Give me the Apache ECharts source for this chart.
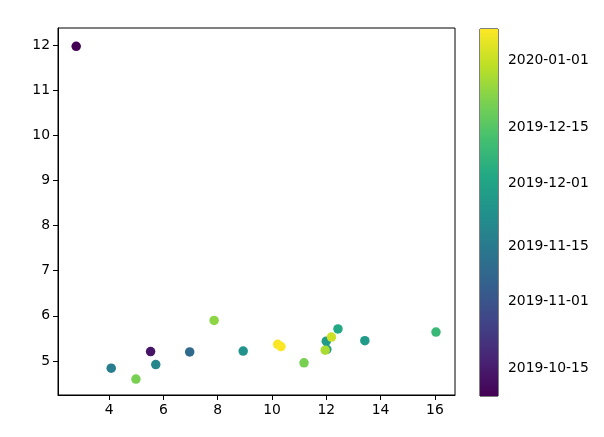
<!DOCTYPE html>
<html>
<head>
<meta charset="utf-8">
<script src="https://cdn.jsdelivr.net/npm/echarts@6/dist/echarts.min.js"></script>
<style>
  html, body { margin: 0; padding: 0; background: #fff; }
  #chart { width: 604px; height: 437px; }
</style>
</head>
<body>
<div id="chart"></div>
<script>
// scatter points: x, y and the date used for colour
const xValues = [2.79, 4.08, 4.99, 5.53, 5.72, 6.97, 7.87, 8.94, 10.21, 10.33, 11.18, 12.00, 12.02, 11.96, 12.19, 12.43, 13.42, 16.04];
const yValues = [11.97, 4.84, 4.60, 5.21, 4.92, 5.20, 5.90, 5.22, 5.37, 5.32, 4.96, 5.44, 5.26, 5.24, 5.53, 5.71, 5.45, 5.64];
const dates = ['2019-10-08', '2019-11-16', '2019-12-21', '2019-10-13', '2019-11-19', '2019-11-09', '2019-12-24', '2019-11-24',
  '2020-01-08', '2020-01-09', '2019-12-21', '2019-11-27', '2019-11-28', '2019-12-28', '2020-01-02', '2019-12-03',
  '2019-11-27', '2019-12-09'];

// tick labels
const xTicks = [4, 6, 8, 10, 12, 14, 16];
const yTicks = [5, 6, 7, 8, 9, 10, 11, 12];
const colorbarTicks = ['2019-10-15', '2019-11-01', '2019-11-15', '2019-12-01', '2019-12-15', '2020-01-01'];

// viridis colormap
const viridis = ['#440154', '#482475', '#414487', '#355f8d', '#2a788e', '#21918c',
  '#22a884', '#44bf70', '#7ad151', '#bddf26', '#fde725'];

const toTime = s => new Date(s + 'T00:00:00Z').getTime();
const times = dates.map(toTime);
const tMin = Math.min(...times);
const tMax = Math.max(...times);

const chart = echarts.init(document.getElementById('chart'));

const font = { color: '#000', fontSize: 13.9, fontFamily: 'DejaVu Sans' };

const option = {
  animation: false,
  backgroundColor: '#fff',
  grid: [
    { left: 58, top: 28, right: 149, bottom: 42, show: true, borderColor: '#000', borderWidth: 1 },
    { left: 480, top: 29, width: 18, height: 367, show: true, borderColor: '#000', borderWidth: 1 }
  ],
  xAxis: [
    {
      gridIndex: 0, type: 'value', min: 2.12, max: 16.74,
      axisLine: { show: true, lineStyle: { color: '#000', width: 1 } },
      axisTick: { show: true, inside: false, length: 5, customValues: xTicks, lineStyle: { color: '#000' } },
      axisLabel: { ...font, margin: 8, customValues: xTicks },
      splitLine: { show: false }
    },
    { gridIndex: 1, type: 'value', min: 0, max: 1, show: false }
  ],
  yAxis: [
    {
      gridIndex: 0, type: 'value', min: 4.247, max: 12.377,
      axisLine: { show: true, lineStyle: { color: '#000', width: 1 } },
      axisTick: { show: true, inside: false, length: 5, customValues: yTicks, lineStyle: { color: '#000' } },
      axisLabel: { ...font, margin: 8, customValues: yTicks },
      splitLine: { show: false }
    },
    {
      gridIndex: 1, type: 'value', min: tMin, max: tMax, position: 'right',
      axisLine: { show: false },
      axisTick: { show: true, inside: false, length: 5, customValues: colorbarTicks.map(toTime), lineStyle: { color: '#000' } },
      axisLabel: {
        ...font, margin: 10, customValues: colorbarTicks.map(toTime),
        formatter: v => new Date(v).toISOString().slice(0, 10)
      },
      splitLine: { show: false }
    }
  ],
  visualMap: {
    type: 'continuous', show: false, seriesIndex: 0, dimension: 2,
    min: tMin, max: tMax,
    inRange: { color: viridis }
  },
  series: [
    {
      type: 'scatter', xAxisIndex: 0, yAxisIndex: 0,
      symbolSize: 9.5,
      itemStyle: { opacity: 1 },
      data: xValues.map((x, i) => [x, yValues[i], times[i]])
    },
    {
      // colorbar
      type: 'custom', xAxisIndex: 1, yAxisIndex: 1, silent: true,
      data: [[0, tMin]],
      renderItem: (params, api) => {
        const cs = params.coordSys;
        return {
          type: 'rect', z2: -1,
          shape: { x: cs.x, y: cs.y, width: cs.width, height: cs.height },
          style: {
            fill: new echarts.graphic.LinearGradient(0, 1, 0, 0,
              viridis.map((c, i) => ({ offset: i / (viridis.length - 1), color: c })))
          }
        };
      }
    }
  ]
};

chart.setOption(option);
</script>
</body>
</html>
